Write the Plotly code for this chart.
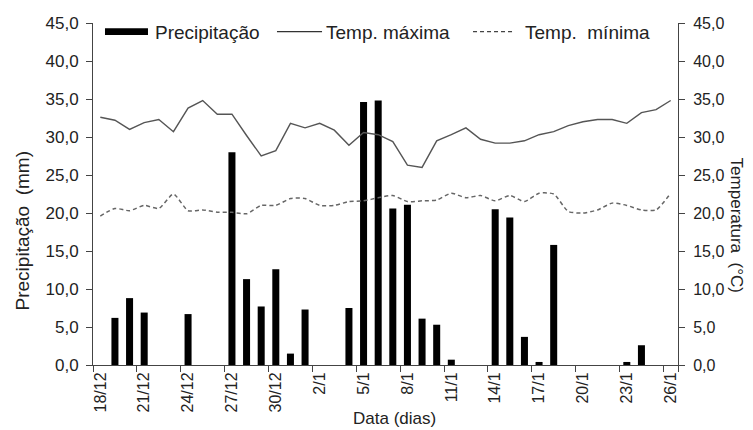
import plotly.graph_objects as go

dates = ["18/12", "19/12", "20/12", "21/12", "22/12", "23/12", "24/12", "25/12",
         "26/12", "27/12", "28/12", "29/12", "30/12", "31/12", "1/1", "2/1",
         "3/1", "4/1", "5/1", "6/1", "7/1", "8/1", "9/1", "10/1", "11/1", "12/1",
         "13/1", "14/1", "15/1", "16/1", "17/1", "18/1", "19/1", "20/1", "21/1",
         "22/1", "23/1", "24/1", "25/1", "26/1"]

precip = [0, 6.2, 8.8, 6.9, 0, 0, 6.7, 0, 0, 28.0, 11.3, 7.7, 12.6, 1.5, 7.3, 0,
          0, 7.5, 34.6, 34.8, 20.6, 21.1, 6.1, 5.3, 0.7, 0, 0, 20.5, 19.4, 3.7,
          0.4, 15.8, 0, 0, 0, 0, 0.4, 2.6, 0, 0]

tmax = [32.6, 32.2, 31.0, 31.9, 32.3, 30.7, 33.8, 34.8, 33.0, 33.0, 30.2, 27.5,
        28.2, 31.8, 31.2, 31.8, 30.9, 28.9, 30.6, 30.3, 29.4, 26.3, 26.0, 29.5,
        30.3, 31.2, 29.7, 29.2, 29.2, 29.5, 30.3, 30.7, 31.5, 32.0, 32.3, 32.3,
        31.8, 33.2, 33.6, 34.8]

tmin = [19.6, 20.6, 20.3, 21.0, 20.6, 22.5, 20.3, 20.4, 20.1, 20.1, 19.9, 21.0,
        21.0, 21.9, 21.9, 21.0, 21.0, 21.5, 21.6, 22.0, 22.3, 21.5, 21.6, 21.7,
        22.6, 22.0, 22.3, 21.6, 22.3, 21.5, 22.6, 22.5, 20.2, 20.0, 20.4, 21.3,
        21.0, 20.4, 20.4, 22.6]

tick_labels = dates[::3]
y_ticks = [0, 5, 10, 15, 20, 25, 30, 35, 40, 45]

FONT = "Liberation Sans, Arial, sans-serif"
TXT = "#222222"
AX = "#444444"

fig = go.Figure()
fig.add_trace(go.Bar(x=dates, y=precip, name="Precipitação",
                     marker=dict(color="black", line=dict(width=0))))
fig.add_trace(go.Scatter(x=dates, y=tmax, name="Temp. máxima", yaxis="y2",
                         mode="lines", line=dict(color="#555555", width=1.4)))
fig.add_trace(go.Scatter(x=dates, y=tmin, name="Temp. mínima", yaxis="y2",
                         mode="lines",
                         line=dict(color="#666666", width=1.5, dash="4px,3px",
                                   shape="spline", smoothing=0.6)))

fig.update_layout(
    width=745, height=422,
    margin=dict(l=85, r=75, t=15, b=65),
    paper_bgcolor="white", plot_bgcolor="white",
    separators=",.",
    showlegend=False,
    bargap=0.52,
    font=dict(family=FONT, size=16, color=TXT),
    xaxis=dict(type="category", categoryorder="array", categoryarray=dates,
               tickmode="array", tickvals=tick_labels, ticktext=tick_labels,
               tickson="boundaries", ticks="outside", ticklen=6,
               tickcolor=AX, tickangle=-90, showline=True,
               linecolor=AX, linewidth=1, showgrid=False,
               automargin=False,
               tickfont=dict(size=16, color=TXT)),
    yaxis=dict(range=[0, 45], tickvals=y_ticks, tickformat=".1f",
               ticks="outside", ticklen=6, tickcolor=AX, showline=True,
               linecolor=AX, linewidth=1, showgrid=False, zeroline=False,
               automargin=False, ticklabelstandoff=4,
               tickfont=dict(size=17, color=TXT)),
    yaxis2=dict(range=[0, 45], tickvals=y_ticks, tickformat=".1f",
                overlaying="y", side="right", ticks="outside", ticklen=6,
                tickcolor=AX, showline=True, linecolor=AX,
                linewidth=1, showgrid=False, zeroline=False,
                automargin=False, ticklabelstandoff=5,
                tickfont=dict(size=16, color=TXT)),
)

# axis titles
fig.add_annotation(text="Data (dias)", xref="paper", yref="paper",
                   x=0.516, y=-0.156, xanchor="center", yanchor="middle",
                   showarrow=False, font=dict(size=17, color=TXT))
fig.add_annotation(text="Precipitação  (mm)", xref="paper", yref="paper",
                   x=-0.1205, y=0.392, xanchor="center", yanchor="middle",
                   showarrow=False, textangle=-90,
                   font=dict(size=19, color=TXT))
fig.add_annotation(text="Temperatura  (°C)", xref="paper", yref="paper",
                   x=1.1, y=0.409, xanchor="center", yanchor="middle",
                   showarrow=False, textangle=90,
                   font=dict(size=17, color=TXT))

# manual legend
fig.add_shape(type="rect", xref="paper", yref="paper",
              x0=0.0205, x1=0.094, y0=0.965, y1=0.985,
              fillcolor="black", line=dict(width=0))
fig.add_annotation(text="Precipitação", xref="paper", yref="paper",
                   x=0.1026, y=0.972, xanchor="left", yanchor="middle",
                   showarrow=False, font=dict(size=19, color=TXT))
fig.add_shape(type="line", xref="paper", yref="paper",
              x0=0.3145, x1=0.3915, y0=0.9746, y1=0.9746,
              line=dict(color="#333333", width=1.2))
fig.add_annotation(text="Temp. máxima", xref="paper", yref="paper",
                   x=0.3949, y=0.972, xanchor="left", yanchor="middle",
                   showarrow=False, font=dict(size=19, color=TXT))
fig.add_shape(type="line", xref="paper", yref="paper",
              x0=0.6496, x1=0.718, y0=0.9746, y1=0.9746,
              line=dict(color="#444444", width=1.2, dash="4px,3px"))
fig.add_annotation(text="Temp.  mínima", xref="paper", yref="paper",
                   x=0.735, y=0.972, xanchor="left", yanchor="middle",
                   showarrow=False, font=dict(size=19, color=TXT))

fig.write_html("out.html")
